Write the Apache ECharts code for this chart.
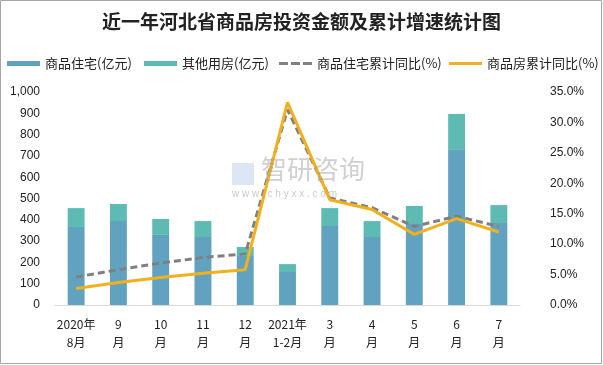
<!DOCTYPE html>
<html><head><meta charset="utf-8">
<script src="https://cdn.jsdelivr.net/npm/echarts@6/dist/echarts.min.js"></script>
<style>html,body{margin:0;padding:0;background:#fff}#c{width:603px;height:365px}</style>
</head><body><div id="c"></div>
<script>
const categories = ['2020年\n8月','9\n月','10\n月','11\n月','12\n月','2021年\n1-2月','3\n月','4\n月','5\n月','6\n月','7\n月'];
const residential = [366, 394, 329, 319, 230, 155, 371, 319, 380, 728, 385];
const otherHousing = [89, 80, 75, 75, 42, 37, 84, 75, 85, 169, 84];
const residentialYoY = [4.6, 5.8, 6.9, 7.8, 8.4, 32.1, 17.6, 16.0, 12.9, 14.6, 12.9];
const totalYoY = [2.7, 3.7, 4.5, 5.2, 5.8, 33.3, 17.3, 15.7, 11.6, 14.2, 12.0];
const leftTicks = {min: 0, max: 1000, interval: 100};
const rightTicks = {min: 0, max: 35, interval: 5};

const chart = echarts.init(document.getElementById('c'));
const cjk = '"Noto Sans CJK SC", "Liberation Sans", sans-serif';
const num = '"Liberation Sans", "Noto Sans CJK SC", sans-serif';
function leg(name, left, icon, h) {
  return {data: [{name: name, icon: icon}], left: left, top: 57, padding: 0, itemWidth: 33, itemHeight: h, itemGap: 5,
    textStyle: {fontFamily: cjk, fontSize: 13, color: '#222'}};
}
const dashIcon = 'path://M0,0h9v3h-9z M12,0h9v3h-9z M24,0h9v3h-9z';
chart.setOption({
  animation: false,
  title: {text: '近一年河北省商品房投资金额及累计增速统计图', left: 'center', top: 7,
    textStyle: {fontFamily: cjk, fontSize: 19, fontWeight: 'bold', color: '#222'}},
  legend: [leg('商品住宅(亿元)', 7, 'rect', 5), leg('其他用房(亿元)', 144, 'rect', 5),
           leg('商品住宅累计同比(%)', 279, dashIcon, 3), leg('商品房累计同比(%)', 449, 'rect', 3)],
  graphic: [
    {type: 'rect', shape: {x: 0.5, y: 0.5, width: 601, height: 363}, style: {fill: 'none', stroke: '#a6a6a6', lineWidth: 1}, z: 100},
    {type: 'text', left: 261, top: 156, z: 50, style: {text: '智研咨询', font: '26px "Noto Sans CJK SC"', fill: 'rgba(150,150,150,0.45)'}},
    {type: 'text', left: 232, top: 189, z: 50, style: {text: 'w w w . c h y x x . c o m', font: '10px "Liberation Sans"', fill: 'rgba(150,150,150,0.5)'}},
    {type: 'rect', left: 232, top: 163, z: 50, shape: {width: 22, height: 22}, style: {fill: 'rgba(120,160,210,0.25)'}}
  ],
  grid: {left: 55, right: 83, top: 92, bottom: 60},
  xAxis: {type: 'category', data: categories,
    axisLine: {lineStyle: {color: '#d9d9d9'}}, axisTick: {show: false},
    axisLabel: {fontFamily: cjk, fontSize: 12, color: '#222', lineHeight: 18, interval: 0, margin: 10}},
  yAxis: [
    {type: 'value', min: leftTicks.min, max: leftTicks.max, interval: leftTicks.interval, splitLine: {show: false},
      axisLabel: {fontFamily: num, fontSize: 12, color: '#222', margin: 15,
        formatter: v => v.toLocaleString('en-US')}},
    {type: 'value', min: rightTicks.min, max: rightTicks.max, interval: rightTicks.interval, splitLine: {show: false},
      axisLabel: {fontFamily: num, fontSize: 12, color: '#222', margin: 30, formatter: v => v.toFixed(1) + '%'}}
  ],
  series: [
    {name: '商品住宅(亿元)', type: 'bar', stack: 'a', data: residential, barWidth: '40%', itemStyle: {color: '#62a2c1'}},
    {name: '其他用房(亿元)', type: 'bar', stack: 'a', data: otherHousing, itemStyle: {color: '#5dbbb4'}},
    {name: '商品住宅累计同比(%)', type: 'line', yAxisIndex: 1, data: residentialYoY, symbol: 'none',
      lineStyle: {color: '#808080', width: 3, type: [7, 4]}, itemStyle: {color: '#808080'}},
    {name: '商品房累计同比(%)', type: 'line', yAxisIndex: 1, data: totalYoY, symbol: 'none',
      lineStyle: {color: '#f2b11c', width: 3}, itemStyle: {color: '#f2b11c'}}
  ]
});
</script></body></html>
